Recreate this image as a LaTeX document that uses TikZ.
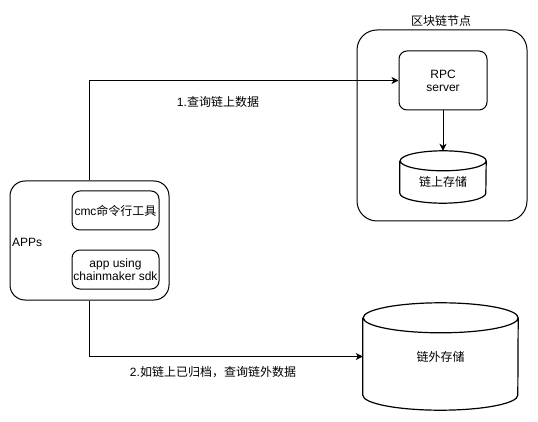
\documentclass[tikz,border=0pt]{standalone}
\usepackage{fontspec}
\setmainfont{Liberation Sans}
\newfontfamily\cjk{Noto Sans CJK SC}
\usetikzlibrary{arrows.meta,calc}
\tikzset{
  base/.style={font=\fontsize{12}{14}\selectfont, text=black},
  rbox/.style={base, draw=black, line width=1pt, rounded corners=#1, inner sep=0pt},
  ghost/.style={base, inner sep=0pt},
  lbl/.style={base, inner sep=0pt},
  arr/.style={draw=black, line width=1pt, -{Stealth[length=7pt,width=7pt,inset=2pt]}},
  cyl/.style={draw=black, line width=1.2pt, fill=white}
}
\begin{document}
\begin{tikzpicture}[x=1pt,y=-1pt]
\useasboundingbox (0,0) rectangle (538,422);
% blockchain node container
\node[rbox=20pt, minimum width=170pt, minimum height=191pt] (blk) at (442,125.5) {};
\node[lbl] (blklbl) at (441,21) {\cjk 区块链节点};
% RPC server
\node[rbox=8pt, minimum width=88pt, minimum height=59pt, align=center] (rpc) at (443,80.5) {RPC\\[-1pt]server};
% on-chain storage cylinder
\node[ghost, minimum width=86pt, minimum height=52pt] (db1) at (443,177) {};
\draw[cyl] ([yshift=-10pt]db1.north west) -- ([yshift=10pt]db1.south west)
  arc[start angle=180,end angle=360,x radius=43pt,y radius=10pt]
  -- ([yshift=-10pt]db1.north east)
  arc[start angle=0,end angle=180,x radius=43pt,y radius=10pt]
  arc[start angle=180,end angle=360,x radius=43pt,y radius=10pt];
\node[lbl] (db1t) at (443,182) {\cjk 链上存储};
% APPs container
\node[rbox=15pt, minimum width=159pt, minimum height=119pt] (apps) at (89.5,240.5) {};
\node[lbl, anchor=west] (appst) at (12,242) {APPs};
\node[rbox=8pt, minimum width=87pt, minimum height=39pt] (cmc) at (115.5,210.5) {cmc{\cjk 命令行工具}};
\node[rbox=8pt, minimum width=87pt, minimum height=39pt, align=center] (sdk) at (115.5,269.5) {app using\\[-1pt]chainmaker sdk};
% off-chain storage cylinder
\node[ghost, minimum width=155pt, minimum height=107pt] (db2) at (440.5,356.5) {};
\draw[cyl] ([yshift=-15pt]db2.north west) -- ([yshift=15pt]db2.south west)
  arc[start angle=180,end angle=360,x radius=77.5pt,y radius=15pt]
  -- ([yshift=-15pt]db2.north east)
  arc[start angle=0,end angle=180,x radius=77.5pt,y radius=15pt]
  arc[start angle=180,end angle=360,x radius=77.5pt,y radius=15pt];
\node[lbl] (db2t) at (440.5,357) {\cjk 链外存储};
% connectors
\draw[arr] (apps.north) |- (rpc.west);
\draw[arr] (rpc.south) -- (db1.north);
\draw[arr] (apps.south) |- (db2.west);
\node[lbl] (l1) at (218,102) {1.{\cjk 查询链上数据}};
\node[lbl] (l2) at (213,372) {2.{\cjk 如链上已归档，查询链外数据}};
\end{tikzpicture}
\end{document}
